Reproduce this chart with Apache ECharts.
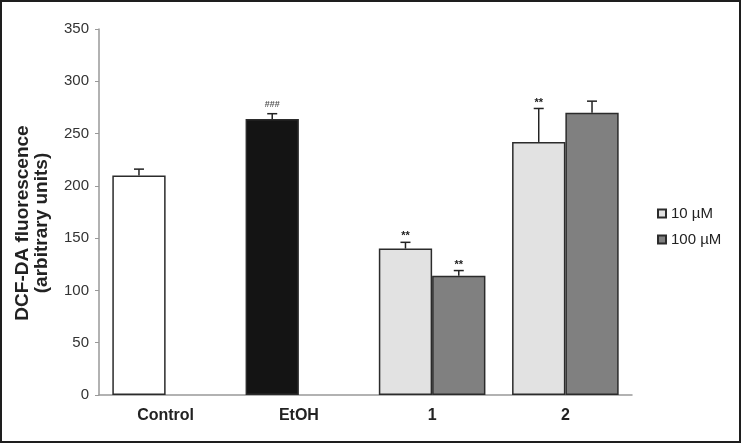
<!DOCTYPE html>
<html>
<head>
<meta charset="utf-8">
<script src="https://cdn.jsdelivr.net/npm/echarts@6/dist/echarts.min.js"></script>
<style>
  html, body { margin: 0; padding: 0; background: #fff; }
  #chart { width: 741px; height: 443px; }
</style>
</head>
<body>
<div id="chart"></div>
<script>
var categories = ['Control', 'EtOH', '1', '2'];
var yTicks = { min: 0, max: 350, step: 50 };

// left bar of each group (Control and EtOH sit in this slot too)
var low10 = [210, 264, 140, 242];
var low10Err = [6, 5, 6, 32];
var low10Mark = ['', '###', '**', '**'];

// right bar of each group
var high100 = [null, null, 114, 270];
var high100Err = [null, null, 5, 11];
var high100Mark = ['', '', '**', ''];

var seriesNames = ['10 \u00b5M', '100 \u00b5M'];

(function () {
    'use strict';
    var chart = echarts.init(document.getElementById('chart'));

    var fillLow = ['#ffffff', '#141414', '#e2e2e2', '#e2e2e2'];
    var edge = '#2b2b2b';

    var lowData = low10.map(function (v, i) {
        return { value: v, itemStyle: { color: fillLow[i] } };
    });

    // error bars: [category, slot, value, err]
    var errData = [], errMarks = [];
    low10.forEach(function (v, i) {
        if (v == null) return;
        errData.push([i, 0, v, low10Err[i]]);
        errMarks.push(low10Mark[i]);
    });
    high100.forEach(function (v, i) {
        if (v == null) return;
        errData.push([i, 1, v, high100Err[i]]);
        errMarks.push(high100Mark[i]);
    });

    function renderErr(params, api) {
        var cat = api.value(0), slot = api.value(1);
        var v = api.value(2), e = api.value(3);
        var base = api.coord([cat, v]);
        var top = api.coord([cat, v + e]);
        var bw = api.size([1, 0])[0] * 0.4;
        var x = base[0] + (slot === 0 ? -bw / 2 : bw / 2);
        var st = { stroke: '#222', lineWidth: 1.5 };
        var kids = [
            { type: 'line', shape: { x1: x, y1: base[1], x2: x, y2: top[1] }, style: st },
            { type: 'line', shape: { x1: x - 5, y1: top[1], x2: x + 5, y2: top[1] }, style: st }
        ];
        var mark = errMarks[params.dataIndex];
        if (mark) {
            kids.push({
                type: 'text',
                style: {
                    text: mark, x: x, y: top[1] - (mark === '###' ? 9 : 6),
                    align: 'center', verticalAlign: 'middle',
                    fontSize: mark === '###' ? 9 : 11, fontWeight: 'bold',
                    fill: mark === '###' ? '#555' : '#222',
                    fontFamily: 'Liberation Sans'
                }
            });
        }
        return { type: 'group', children: kids };
    }

    var option = {
        animation: false,
        backgroundColor: '#fff',
        textStyle: { fontFamily: 'Liberation Sans' },
        graphic: [{
            type: 'rect',
            shape: { x: 1, y: 1, width: 739, height: 441 },
            style: { fill: null, stroke: '#1e1e1e', lineWidth: 2 },
            z: 100
        }],
        grid: { left: 99, right: 109, top: 29, bottom: 48, outerBoundsMode: 'none', containLabel: false },
        legend: {
            orient: 'vertical',
            left: 652, top: 201,
            itemWidth: 8, itemHeight: 8, itemGap: 11,
            icon: 'rect',
            data: seriesNames,
            textStyle: { fontSize: 15, color: '#222' }
        },
        xAxis: {
            type: 'category',
            data: categories,
            axisLine: { lineStyle: { color: '#999', width: 1.5 } },
            axisTick: { show: false },
            axisLabel: { fontSize: 16, fontWeight: 'bold', color: '#222', margin: 13 }
        },
        yAxis: {
            type: 'value',
            min: yTicks.min, max: yTicks.max, interval: yTicks.step,
            name: 'DCF-DA fluorescence\n(arbitrary units)',
            nameLocation: 'middle',
            nameGap: 48,
            nameTextStyle: { fontSize: 19, fontWeight: 'bold', color: '#222', lineHeight: 19, padding: [0, 22, 0, 0] },
            axisLine: { show: true, lineStyle: { color: '#999', width: 1.5 } },
            axisTick: { show: true, length: 4, lineStyle: { color: '#999' } },
            splitLine: { show: false },
            axisLabel: { fontSize: 15, color: '#333', margin: 10 }
        },
        series: [
            {
                name: seriesNames[0], type: 'bar',
                barWidth: '40%', barGap: '0%',
                data: lowData,
                itemStyle: { color: '#e2e2e2', borderColor: edge, borderWidth: 1.5 }
            },
            {
                name: seriesNames[1], type: 'bar',
                barWidth: '40%', barGap: '0%',
                data: high100,
                itemStyle: { color: '#808080', borderColor: edge, borderWidth: 1.5 }
            },
            {
                type: 'custom',
                renderItem: renderErr,
                data: errData,
                encode: { x: 0, y: 2 },
                z: 10,
                silent: true
            }
        ]
    };

    chart.setOption(option);
})();
</script>
</body>
</html>
